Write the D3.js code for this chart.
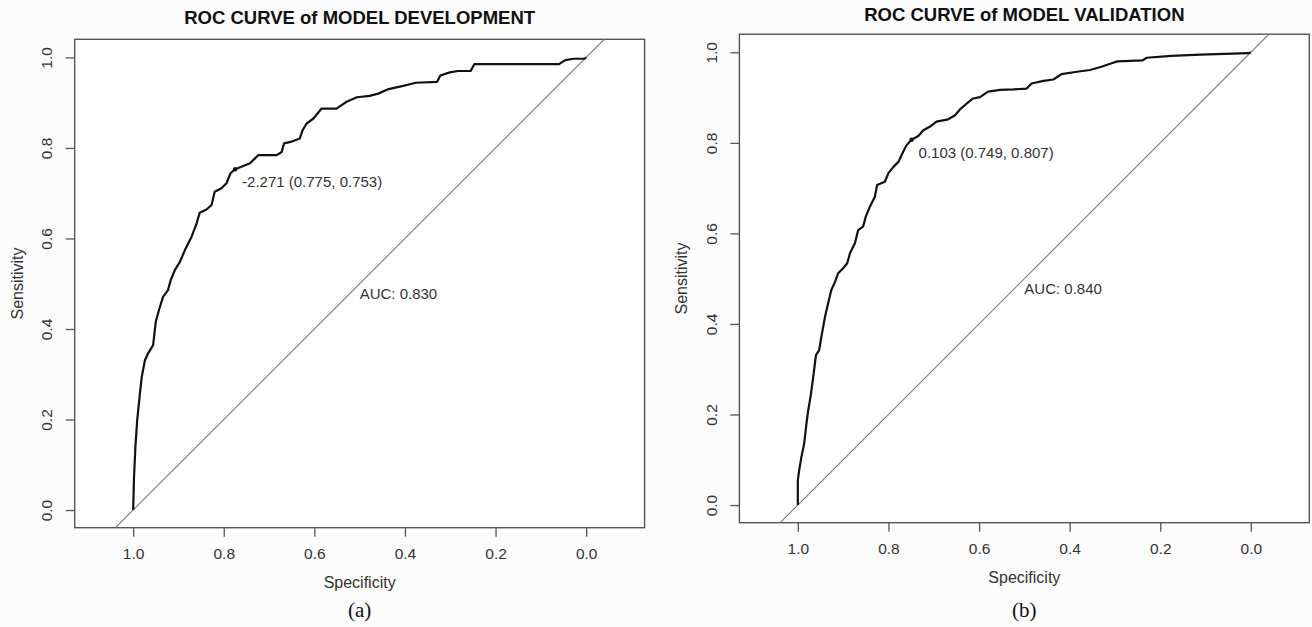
<!DOCTYPE html>
<html>
<head>
<meta charset="utf-8">
<script src="https://cdn.jsdelivr.net/npm/d3@7"></script>
<style>
  body { margin: 0; background: #fcfcfc; }
  svg { display: block; }
  text { fill: #333; font-family: "Liberation Sans", Arial, sans-serif; }
</style>
</head>
<body>
<svg id="chart" width="1312" height="627"></svg>
<script>
// ROC points: specificity / sensitivity pairs
const devSpec = [1, 0.998, 0.995, 0.991, 0.985, 0.981, 0.974, 0.967, 0.956, 0.950, 0.943, 0.934, 0.923, 0.917, 0.908, 0.897,
  0.884, 0.871, 0.860, 0.853, 0.838, 0.827, 0.820, 0.805, 0.794, 0.785, 0.775, 0.757, 0.742, 0.724, 0.683, 0.672, 0.667,
  0.650, 0.632, 0.626, 0.617, 0.602, 0.584, 0.551, 0.529, 0.506, 0.478, 0.459, 0.436, 0.404, 0.376, 0.329, 0.322, 0.301,
  0.283, 0.255, 0.247, 0.060, 0.046, 0.028, 0.004, 0];
const devSens = [0, 0.074, 0.140, 0.199, 0.258, 0.294, 0.331, 0.346, 0.364, 0.416, 0.442, 0.471, 0.486, 0.508, 0.530, 0.548,
  0.578, 0.604, 0.633, 0.657, 0.664, 0.674, 0.703, 0.711, 0.722, 0.744, 0.753, 0.760, 0.766, 0.784, 0.784, 0.791, 0.810,
  0.814, 0.821, 0.839, 0.854, 0.865, 0.887, 0.887, 0.902, 0.912, 0.915, 0.920, 0.930, 0.937, 0.944, 0.946, 0.960, 0.967,
  0.970, 0.970, 0.985, 0.985, 0.994, 0.997, 0.997, 1];

const valSpec = [1, 1.0, 0.997, 0.992, 0.986, 0.981, 0.977, 0.972, 0.966, 0.960, 0.953, 0.948, 0.940, 0.933, 0.926, 0.918,
  0.911, 0.900, 0.891, 0.885, 0.874, 0.867, 0.856, 0.850, 0.841, 0.830, 0.825, 0.808, 0.800, 0.789, 0.778, 0.771, 0.760,
  0.749, 0.734, 0.723, 0.708, 0.694, 0.668, 0.653, 0.642, 0.627, 0.613, 0.598, 0.580, 0.554, 0.524, 0.495, 0.484, 0.458,
  0.436, 0.418, 0.384, 0.355, 0.330, 0.304, 0.294, 0.239, 0.230, 0.175, 0.111, 0.005, 0];
const valSens = [0, 0.055, 0.077, 0.107, 0.136, 0.180, 0.210, 0.239, 0.283, 0.331, 0.342, 0.372, 0.416, 0.446, 0.475, 0.493,
  0.512, 0.523, 0.534, 0.556, 0.578, 0.607, 0.615, 0.637, 0.659, 0.681, 0.707, 0.714, 0.733, 0.747, 0.758, 0.773, 0.795,
  0.807, 0.815, 0.828, 0.836, 0.847, 0.852, 0.861, 0.874, 0.887, 0.898, 0.901, 0.913, 0.917, 0.918, 0.920, 0.931, 0.937,
  0.940, 0.952, 0.957, 0.961, 0.968, 0.977, 0.980, 0.982, 0.988, 0.992, 0.995, 0.998, 1];

const tickValues = [1.0, 0.8, 0.6, 0.4, 0.2, 0.0];
const titles = ["ROC CURVE of MODEL DEVELOPMENT", "ROC CURVE of MODEL VALIDATION"];
const captions = ["(a)", "(b)"];
const thresholds = [-2.271, 0.103];
const thrSpec = [0.775, 0.749];
const thrSens = [0.753, 0.807];
const aucs = [0.830, 0.840];

const svg = d3.select("#chart");

// box edges in pixels for each panel
const panels = [
  {left: 74.7, right: 644.6, top: 39.3, bottom: 527.7, titleY: 24},
  {left: 739.4, right: 1309.3, top: 34.2, bottom: 522.7, titleY: 21}
];

function drawPanel(i, spec, sens) {
  const p = panels[i];
  const g = svg.append("g");

  const x = d3.scaleLinear().domain([1.129, -0.129]).range([p.left, p.right]);
  const y = d3.scaleLinear().domain([-0.039, 1.04]).range([p.bottom, p.top]);

  g.append("rect")
    .attr("x", p.left).attr("y", p.top)
    .attr("width", p.right - p.left).attr("height", p.bottom - p.top)
    .attr("fill", "#fff");

  // x axis
  const xa = g.append("g")
    .attr("transform", "translate(0," + p.bottom + ")")
    .call(d3.axisBottom(x).tickValues(tickValues).tickSize(9).tickPadding(11).tickFormat(d3.format(".1f")));
  xa.select(".domain").remove();
  xa.selectAll("line").attr("stroke", "#555").attr("stroke-width", 1.3);
  xa.selectAll("text").attr("font-size", 15.5).style("fill", "#333");

  // y axis, labels turned like R does
  const ya = g.append("g")
    .attr("transform", "translate(" + p.left + ",0)")
    .call(d3.axisLeft(y).tickValues(tickValues).tickSize(9).tickFormat(d3.format(".1f")));
  ya.select(".domain").remove();
  ya.selectAll("line").attr("stroke", "#555").attr("stroke-width", 1.3);
  ya.selectAll("text")
    .attr("font-size", 15.5).style("fill", "#333")
    .attr("x", null).attr("dy", null)
    .attr("text-anchor", "middle")
    .attr("transform", "translate(-28,0) rotate(-90)")
    .attr("dy", "0.35em");

  g.append("rect")
    .attr("x", p.left).attr("y", p.top)
    .attr("width", p.right - p.left).attr("height", p.bottom - p.top)
    .attr("fill", "none").attr("stroke", "#555").attr("stroke-width", 1.4);

  const clipId = "clip" + i;
  svg.append("clipPath").attr("id", clipId).append("rect")
    .attr("x", p.left).attr("y", p.top)
    .attr("width", p.right - p.left).attr("height", p.bottom - p.top);

  // chance line
  g.append("line")
    .attr("clip-path", "url(#" + clipId + ")")
    .attr("x1", x(1.2)).attr("y1", y(-0.2))
    .attr("x2", x(-0.2)).attr("y2", y(1.2))
    .attr("stroke", "#777").attr("stroke-width", 1.1);

  const pts = spec.map((s, k) => [s, sens[k]]);
  g.append("path")
    .datum(pts)
    .attr("d", d3.line().x(d => x(d[0])).y(d => y(d[1])))
    .attr("fill", "none").attr("stroke", "#111").attr("stroke-width", 2.2)
    .attr("stroke-linejoin", "round");

  // best threshold
  g.append("circle")
    .attr("cx", x(thrSpec[i])).attr("cy", y(thrSens[i])).attr("r", 2.2)
    .attr("fill", "#111");
  g.append("text")
    .attr("x", x(thrSpec[i]) + 7).attr("y", y(thrSens[i]) + 18)
    .attr("font-size", 15)
    .text(thresholds[i].toFixed(3) + " (" + thrSpec[i].toFixed(3) + ", " + thrSens[i].toFixed(3) + ")");

  g.append("text")
    .attr("x", x(0.5)).attr("y", y(0.5) + 15)
    .attr("font-size", 15)
    .text("AUC: " + aucs[i].toFixed(3));

  const cx = (p.left + p.right) / 2;
  g.append("text")
    .attr("x", cx).attr("y", p.titleY)
    .attr("text-anchor", "middle")
    .attr("font-size", 18.5).attr("font-weight", "bold")
    .style("fill", "#111")
    .text(titles[i]);

  g.append("text")
    .attr("x", cx).attr("y", p.bottom + 60)
    .attr("text-anchor", "middle")
    .attr("font-size", 16)
    .text("Specificity");

  g.append("text")
    .attr("transform", "translate(" + (p.left - 52) + "," + ((p.top + p.bottom) / 2) + ") rotate(-90)")
    .attr("text-anchor", "middle")
    .attr("font-size", 16)
    .text("Sensitivity");

  g.append("text")
    .attr("x", cx).attr("y", 617)
    .attr("text-anchor", "middle")
    .attr("font-size", 21)
    .style("font-family", "'Liberation Serif', 'Times New Roman', serif")
    .style("fill", "#111")
    .text(captions[i]);
}

drawPanel(0, devSpec, devSens);
drawPanel(1, valSpec, valSens);
</script>
</body>
</html>
